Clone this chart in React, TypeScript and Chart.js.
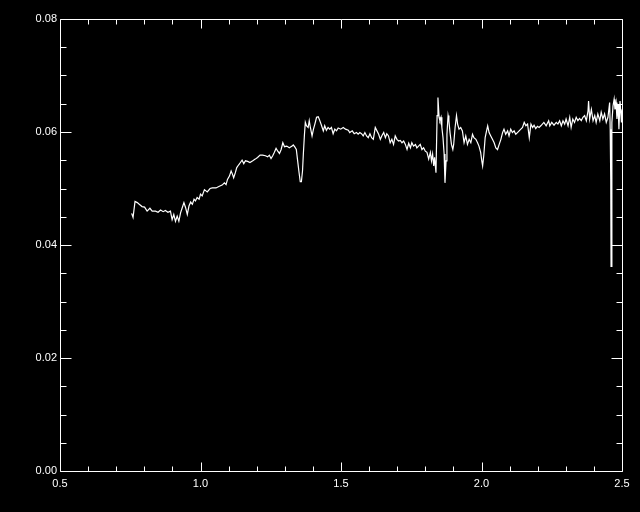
import React, { useEffect, useRef } from "react";
import { Chart, registerables } from "chart.js";

Chart.register(...registerables);

// Wavelength (x) and flux (y) values
const xs: number[] = [
  0.755, 0.760, 0.767, 0.775, 0.782, 0.792, 0.801, 0.810, 0.820, 0.828,
  0.840, 0.849, 0.858, 0.867, 0.875, 0.884, 0.893, 0.899, 0.905, 0.911,
  0.917, 0.923, 0.929, 0.935, 0.941, 0.947, 0.953, 0.959, 0.965, 0.971,
  0.977, 0.982, 0.988, 0.995, 1.000, 1.006, 1.014, 1.024, 1.034, 1.042,
  1.055, 1.067, 1.077, 1.085, 1.091, 1.096, 1.103, 1.109, 1.114, 1.118,
  1.124, 1.129, 1.136, 1.142, 1.148, 1.154, 1.160, 1.168, 1.176, 1.186,
  1.195, 1.203, 1.212, 1.221, 1.231, 1.239, 1.245, 1.251, 1.257, 1.263,
  1.269, 1.275, 1.281, 1.287, 1.293, 1.299, 1.307, 1.316, 1.326, 1.330,
  1.335, 1.341, 1.345, 1.350, 1.355, 1.359, 1.363, 1.366, 1.370, 1.373,
  1.377, 1.383, 1.387, 1.391, 1.397, 1.402, 1.407, 1.413, 1.419, 1.424,
  1.431, 1.437, 1.442, 1.448, 1.454, 1.460, 1.466, 1.472, 1.478, 1.484,
  1.490, 1.499, 1.508, 1.516, 1.526, 1.531, 1.540, 1.547, 1.555, 1.561,
  1.567, 1.573, 1.579, 1.585, 1.591, 1.597, 1.603, 1.609, 1.615, 1.622,
  1.628, 1.634, 1.640, 1.645, 1.652, 1.658, 1.663, 1.669, 1.675, 1.681,
  1.687, 1.693, 1.699, 1.705, 1.711, 1.717, 1.723, 1.729, 1.735, 1.741,
  1.747, 1.752, 1.758, 1.765, 1.770, 1.776, 1.782, 1.788, 1.794, 1.800,
  1.806, 1.812, 1.818, 1.822, 1.826, 1.830, 1.833, 1.838, 1.842, 1.845,
  1.849, 1.852, 1.856, 1.859, 1.863, 1.867, 1.870, 1.874, 1.877, 1.881,
  1.884, 1.888, 1.893, 1.898, 1.901, 1.906, 1.911, 1.915, 1.920, 1.926,
  1.932, 1.938, 1.944, 1.950, 1.956, 1.962, 1.968, 1.973, 1.980, 1.986,
  1.991, 1.997, 2.001, 2.004, 2.008, 2.013, 2.018, 2.022, 2.027, 2.033,
  2.039, 2.045, 2.051, 2.057, 2.063, 2.069, 2.075, 2.080, 2.086, 2.093,
  2.098, 2.104, 2.110, 2.116, 2.122, 2.128, 2.134, 2.140, 2.146, 2.152,
  2.158, 2.164, 2.170, 2.176, 2.182, 2.187, 2.193, 2.199, 2.205, 2.211,
  2.222, 2.230, 2.239, 2.243, 2.250, 2.258, 2.266, 2.272, 2.278, 2.284,
  2.290, 2.296, 2.301, 2.308, 2.314, 2.319, 2.325, 2.331, 2.337, 2.343,
  2.349, 2.355, 2.361, 2.367, 2.373, 2.379, 2.381, 2.385, 2.391, 2.397,
  2.403, 2.408, 2.414, 2.421, 2.426, 2.432, 2.438, 2.444, 2.450, 2.456,
  2.458, 2.460, 2.461, 2.464, 2.468, 2.472, 2.475, 2.479, 2.482, 2.486,
  2.489, 2.493, 2.498, 2.500,
];

const ys: number[] = [
  0.0456, 0.0449, 0.0477, 0.0475, 0.0472, 0.0468, 0.0467, 0.0460, 0.0465, 0.0460,
  0.0460, 0.0458, 0.0462, 0.0459, 0.0461, 0.0458, 0.0460, 0.0445, 0.0454, 0.0442,
  0.0451, 0.0442, 0.0457, 0.0466, 0.0475, 0.0466, 0.0454, 0.0469, 0.0476, 0.0472,
  0.0481, 0.0478, 0.0484, 0.0481, 0.0490, 0.0487, 0.0498, 0.0494, 0.0500, 0.0501,
  0.0501, 0.0504, 0.0506, 0.0510, 0.0507, 0.0516, 0.0522, 0.0531, 0.0525, 0.0519,
  0.0528, 0.0537, 0.0542, 0.0546, 0.0550, 0.0544, 0.0549, 0.0548, 0.0546, 0.0549,
  0.0552, 0.0555, 0.0559, 0.0559, 0.0558, 0.0556, 0.0559, 0.0553, 0.0558, 0.0564,
  0.0571, 0.0566, 0.0562, 0.0569, 0.0581, 0.0574, 0.0575, 0.0572, 0.0575, 0.0577,
  0.0574, 0.0569, 0.0552, 0.0531, 0.0512, 0.0512, 0.0531, 0.0561, 0.0596, 0.0617,
  0.0611, 0.0608, 0.0620, 0.0608, 0.0593, 0.0605, 0.0614, 0.0626, 0.0627, 0.0621,
  0.0611, 0.0602, 0.0611, 0.0603, 0.0608, 0.0605, 0.0608, 0.0597, 0.0605, 0.0602,
  0.0607, 0.0605, 0.0608, 0.0605, 0.0603, 0.0599, 0.0602, 0.0597, 0.0599, 0.0596,
  0.0599, 0.0597, 0.0593, 0.0599, 0.0593, 0.0590, 0.0597, 0.0590, 0.0587, 0.0608,
  0.0602, 0.0596, 0.0587, 0.0593, 0.0599, 0.0590, 0.0597, 0.0593, 0.0581, 0.0587,
  0.0578, 0.0593, 0.0587, 0.0584, 0.0585, 0.0581, 0.0584, 0.0578, 0.0569, 0.0580,
  0.0572, 0.0581, 0.0575, 0.0578, 0.0572, 0.0575, 0.0578, 0.0569, 0.0572, 0.0566,
  0.0564, 0.0552, 0.0564, 0.0549, 0.0561, 0.0540, 0.0555, 0.0528, 0.0629, 0.0661,
  0.0626, 0.0620, 0.0626, 0.0608, 0.0590, 0.0561, 0.0510, 0.0549, 0.0596, 0.0629,
  0.0620, 0.0599, 0.0578, 0.0569, 0.0578, 0.0608, 0.0629, 0.0614, 0.0605, 0.0608,
  0.0602, 0.0581, 0.0593, 0.0578, 0.0587, 0.0581, 0.0596, 0.0590, 0.0587, 0.0581,
  0.0575, 0.0564, 0.0549, 0.0540, 0.0558, 0.0590, 0.0602, 0.0611, 0.0599, 0.0593,
  0.0587, 0.0581, 0.0572, 0.0569, 0.0578, 0.0587, 0.0599, 0.0605, 0.0596, 0.0602,
  0.0593, 0.0605, 0.0599, 0.0602, 0.0596, 0.0599, 0.0602, 0.0605, 0.0608, 0.0617,
  0.0611, 0.0614, 0.0590, 0.0614, 0.0608, 0.0612, 0.0606, 0.0610, 0.0608, 0.0611,
  0.0617, 0.0611, 0.0620, 0.0611, 0.0617, 0.0612, 0.0617, 0.0614, 0.0620, 0.0611,
  0.0620, 0.0614, 0.0623, 0.0611, 0.0626, 0.0608, 0.0623, 0.0617, 0.0626, 0.0620,
  0.0624, 0.0620, 0.0626, 0.0629, 0.0620, 0.0637, 0.0655, 0.0623, 0.0640, 0.0620,
  0.0629, 0.0617, 0.0632, 0.0620, 0.0635, 0.0623, 0.0632, 0.0617, 0.0626, 0.0652,
  0.0605, 0.0516, 0.0362, 0.0617, 0.0646, 0.0658, 0.0640, 0.0652, 0.0623, 0.0649,
  0.0605, 0.0655, 0.0617, 0.0640,
];

// Axis ranges and tick spacing
const xMin = 0.5;
const xMax = 2.5;
const xMajor = 0.5;
const xMinor = 0.1;
const yMin = 0;
const yMax = 0.08;
const yMajor = 0.02;
const yMinor = 0.005;

const isMultiple = (v: number, step: number) => {
  const r = v / step;
  return Math.abs(r - Math.round(r)) < 1e-6;
};

const boxTicksPlugin = {
  id: "boxTicks",
  afterDatasetsDraw(chart: any) {
    const { ctx, chartArea: a, scales } = chart;
    const xs_ = scales.x;
    const ys_ = scales.y;
    const L = Math.round(a.left) + 0.5;
    const R = Math.round(a.right) + 0.5;
    const T = Math.round(a.top) + 0.5;
    const B = Math.round(a.bottom) + 0.5;
    ctx.save();
    ctx.strokeStyle = "#ffffff";
    ctx.lineWidth = 1;
    ctx.beginPath();
    ctx.rect(L, T, R - L, B - T);
    // x ticks (bottom and top, pointing inward)
    const nx = Math.round((xMax - xMin) / xMinor);
    for (let i = 0; i <= nx; i++) {
      const v = xMin + i * xMinor;
      const px = Math.round(xs_.getPixelForValue(v)) + 0.5;
      const len = isMultiple(v, xMajor) ? 9 : 5;
      ctx.moveTo(px, B);
      ctx.lineTo(px, B - len);
      ctx.moveTo(px, T);
      ctx.lineTo(px, T + len);
    }
    // y ticks (left and right, pointing inward)
    const ny = Math.round((yMax - yMin) / yMinor);
    for (let i = 0; i <= ny; i++) {
      const v = yMin + i * yMinor;
      const py = Math.round(ys_.getPixelForValue(v)) + 0.5;
      const len = isMultiple(v, yMajor) ? 11 : 6;
      ctx.moveTo(L, py);
      ctx.lineTo(L + len, py);
      ctx.moveTo(R, py);
      ctx.lineTo(R - len, py);
    }
    ctx.stroke();
    ctx.restore();
  },
};

const bgPlugin = {
  id: "bg",
  beforeDraw(chart: any) {
    const { ctx, width, height } = chart;
    ctx.save();
    ctx.fillStyle = "#000000";
    ctx.fillRect(0, 0, width, height);
    ctx.restore();
  },
};

export default function App() {
  const canvasRef = useRef<HTMLCanvasElement | null>(null);

  useEffect(() => {
    document.body.style.margin = "0";
    document.body.style.background = "#000";
    const canvas = canvasRef.current;
    if (!canvas) return;
    const points = xs.map((x, i) => ({ x, y: ys[i] }));
    const font = { family: "'Liberation Sans', Arial, sans-serif", size: 11 };
    const chart = new Chart(canvas, {
      type: "line",
      data: {
        datasets: [
          {
            data: points,
            borderColor: "#ffffff",
            borderWidth: 1.2,
            pointRadius: 0,
            tension: 0,
            fill: false,
          },
        ],
      },
      options: {
        animation: false,
        responsive: false,
        devicePixelRatio: 1,
        events: [],
        layout: { padding: { top: 19, right: 18, left: 0, bottom: 0 } },
        plugins: {
          legend: { display: false },
          tooltip: { enabled: false },
        },
        scales: {
          x: {
            type: "linear",
            min: xMin,
            max: xMax,
            grid: { display: false, drawTicks: false },
            border: { display: false },
            ticks: {
              stepSize: xMajor,
              color: "#ffffff",
              font,
              padding: 6,
              maxRotation: 0,
              callback: (v: any) => Number(v).toFixed(1),
            },
            afterFit: (s: any) => {
              s.height = 41;
            },
          },
          y: {
            type: "linear",
            min: yMin,
            max: yMax,
            grid: { display: false, drawTicks: false },
            border: { display: false },
            ticks: {
              stepSize: yMajor,
              color: "#ffffff",
              font,
              padding: 3,
              callback: (v: any) => Number(v).toFixed(2),
            },
            afterFit: (s: any) => {
              s.width = 60;
            },
          },
        },
      },
      plugins: [bgPlugin, boxTicksPlugin],
    });
    return () => chart.destroy();
  }, []);

  return (
    <div style={{ position: "fixed", left: 0, top: 0, width: 640, height: 512, background: "#000" }}>
      <canvas ref={canvasRef} width={640} height={512} style={{ width: 640, height: 512, display: "block" }} />
    </div>
  );
}
